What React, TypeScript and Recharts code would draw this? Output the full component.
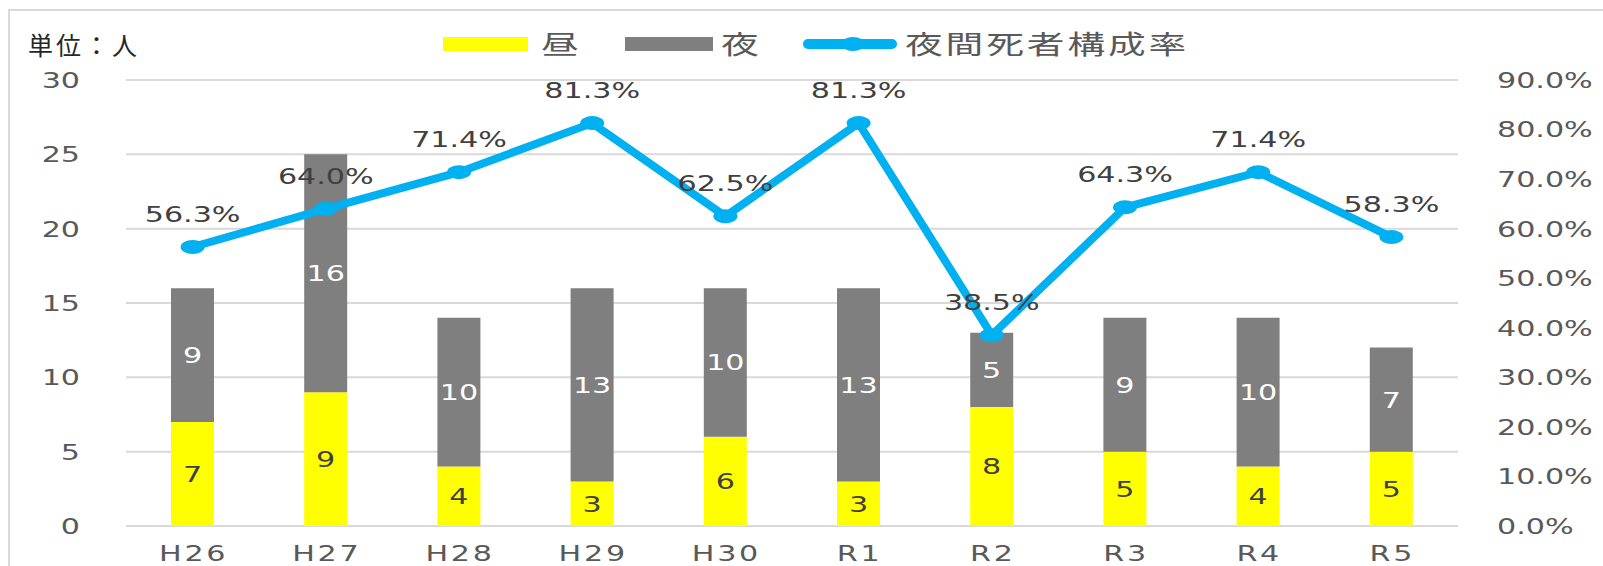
import { ComposedChart, Bar, Line, XAxis, YAxis, CartesianGrid, LabelList } from "recharts";

const years = ["H26", "H27", "H28", "H29", "H30", "R1", "R2", "R3", "R4", "R5"];
const dayDeaths = [7, 9, 4, 3, 6, 3, 8, 5, 4, 5];
const nightDeaths = [9, 16, 10, 13, 10, 13, 5, 9, 10, 7];
const nightRates = [56.3, 64.0, 71.4, 81.3, 62.5, 81.3, 38.5, 64.3, 71.4, 58.3];
const countTicks = [0, 5, 10, 15, 20, 25, 30];
const rateTicks = [0, 10, 20, 30, 40, 50, 60, 70, 80, 90];
const dayName = "昼";
const nightName = "夜";
const rateName = "夜間死者構成率";
const unitLabel = "単位：人";

const data = years.map((year, i) => ({
  year,
  day: dayDeaths[i],
  night: nightDeaths[i],
  rate: nightRates[i],
}));

const FONT = "'DejaVu Sans', Verdana, sans-serif";
const CJK = "'Noto Sans CJK JP', 'Noto Sans', sans-serif";
const YELLOW = "#FFFF00";
const GRAY = "#7F7F7F";
const BLUE = "#00B0F0";

// text drawn a bit wider, like the source picture
function WideText({ x, y, anchor = "middle", fill = "#595959", spacing = 0, children }: any) {
  return (
    <g transform={`translate(${x},${y}) scale(1.37,1)`}>
      <text x={0} y={0} dy="0.36em" textAnchor={anchor} fill={fill} fontSize={22} fontFamily={FONT} letterSpacing={spacing}>
        {children}
      </text>
    </g>
  );
}

const leftTick = (p: any) => (
  <WideText x={p.x - 46} y={p.y} anchor="end">{p.payload.value}</WideText>
);

const rightTick = (p: any) => (
  <WideText x={p.x + 39} y={p.y} anchor="start">{`${Number(p.payload.value).toFixed(1)}%`}</WideText>
);

const bottomTick = (p: any) => (
  <WideText x={p.x + 1} y={p.y + 27} spacing={2}>{p.payload.value}</WideText>
);

const barLabel = (fill: string) => (p: any) => (
  <WideText x={Number(p.x) + Number(p.width) / 2} y={Number(p.y) + Number(p.height) / 2} fill={fill}>
    {p.value}
  </WideText>
);

const rateLabel = (p: any) => (
  <WideText x={p.x} y={Number(p.y) - 33} fill="#404040">{`${Number(p.value).toFixed(1)}%`}</WideText>
);

const rateDot = (p: any) => (
  <ellipse key={`dot-${p.index}`} cx={p.cx} cy={p.cy} rx={12} ry={7} fill={BLUE} />
);

const legendText: any = {
  position: "absolute",
  top: 25,
  fontFamily: CJK,
  fontSize: 26,
  lineHeight: "36px",
  color: "#595959",
  letterSpacing: 2,
  transform: "scaleX(1.45)",
  transformOrigin: "0 0",
  whiteSpace: "nowrap",
};

export default function App() {
  return (
    <div style={{ position: "absolute", left: 0, top: 0, width: 1603, height: 566, overflow: "hidden", background: "#fff" }}>
      <div style={{ position: "absolute", left: 8, top: 9, width: 1700, height: 700, border: "2px solid #D9D9D9" }} />
      <div style={{ position: "absolute", left: 28, top: 27, fontFamily: CJK, fontSize: 25, lineHeight: "34px", color: "#262626", letterSpacing: 3 }}>
        {unitLabel}
      </div>

      <div style={{ position: "absolute", left: 443, top: 37, width: 85, height: 14, background: YELLOW }} />
      <div style={{ ...legendText, left: 541 }}>{dayName}</div>
      <div style={{ position: "absolute", left: 625, top: 37, width: 88, height: 14, background: GRAY }} />
      <div style={{ ...legendText, left: 721 }}>{nightName}</div>
      <svg style={{ position: "absolute", left: 800, top: 33 }} width={100} height={22}>
        <line x1={8} y1={11} x2={92} y2={11} stroke={BLUE} strokeWidth={10} strokeLinecap="round" />
        <ellipse cx={53} cy={11} rx={12} ry={7} fill={BLUE} />
      </svg>
      <div style={{ ...legendText, left: 905 }}>{rateName}</div>

      <div style={{ position: "absolute", left: 0, top: 0 }}>
        <ComposedChart width={1603} height={566} data={data} margin={{ top: 80, right: 0, bottom: 0, left: 0 }}>
          <CartesianGrid vertical={false} stroke="#D9D9D9" strokeWidth={2} />
          <XAxis dataKey="year" axisLine={false} tickLine={false} tickSize={0} tickMargin={0} height={40} tick={bottomTick} interval={0} />
          <YAxis domain={[0, 30]} ticks={countTicks} axisLine={false} tickLine={false} tickSize={0} tickMargin={0} width={126} tick={leftTick} />
          <YAxis yAxisId="rate" orientation="right" domain={[0, 90]} ticks={rateTicks} axisLine={false} tickLine={false} tickSize={0} tickMargin={0} width={145} tick={rightTick} />
          <Bar dataKey="day" name={dayName} stackId="a" fill={YELLOW} barSize={43} isAnimationActive={false}>
            <LabelList dataKey="day" content={barLabel("#404040")} />
          </Bar>
          <Bar dataKey="night" name={nightName} stackId="a" fill={GRAY} barSize={43} isAnimationActive={false}>
            <LabelList dataKey="night" content={barLabel("#FFFFFF")} />
          </Bar>
          <Line yAxisId="rate" dataKey="rate" name={rateName} stroke={BLUE} strokeWidth={8} dot={rateDot} activeDot={false} isAnimationActive={false}>
            <LabelList dataKey="rate" content={rateLabel} />
          </Line>
        </ComposedChart>
      </div>
    </div>
  );
}
